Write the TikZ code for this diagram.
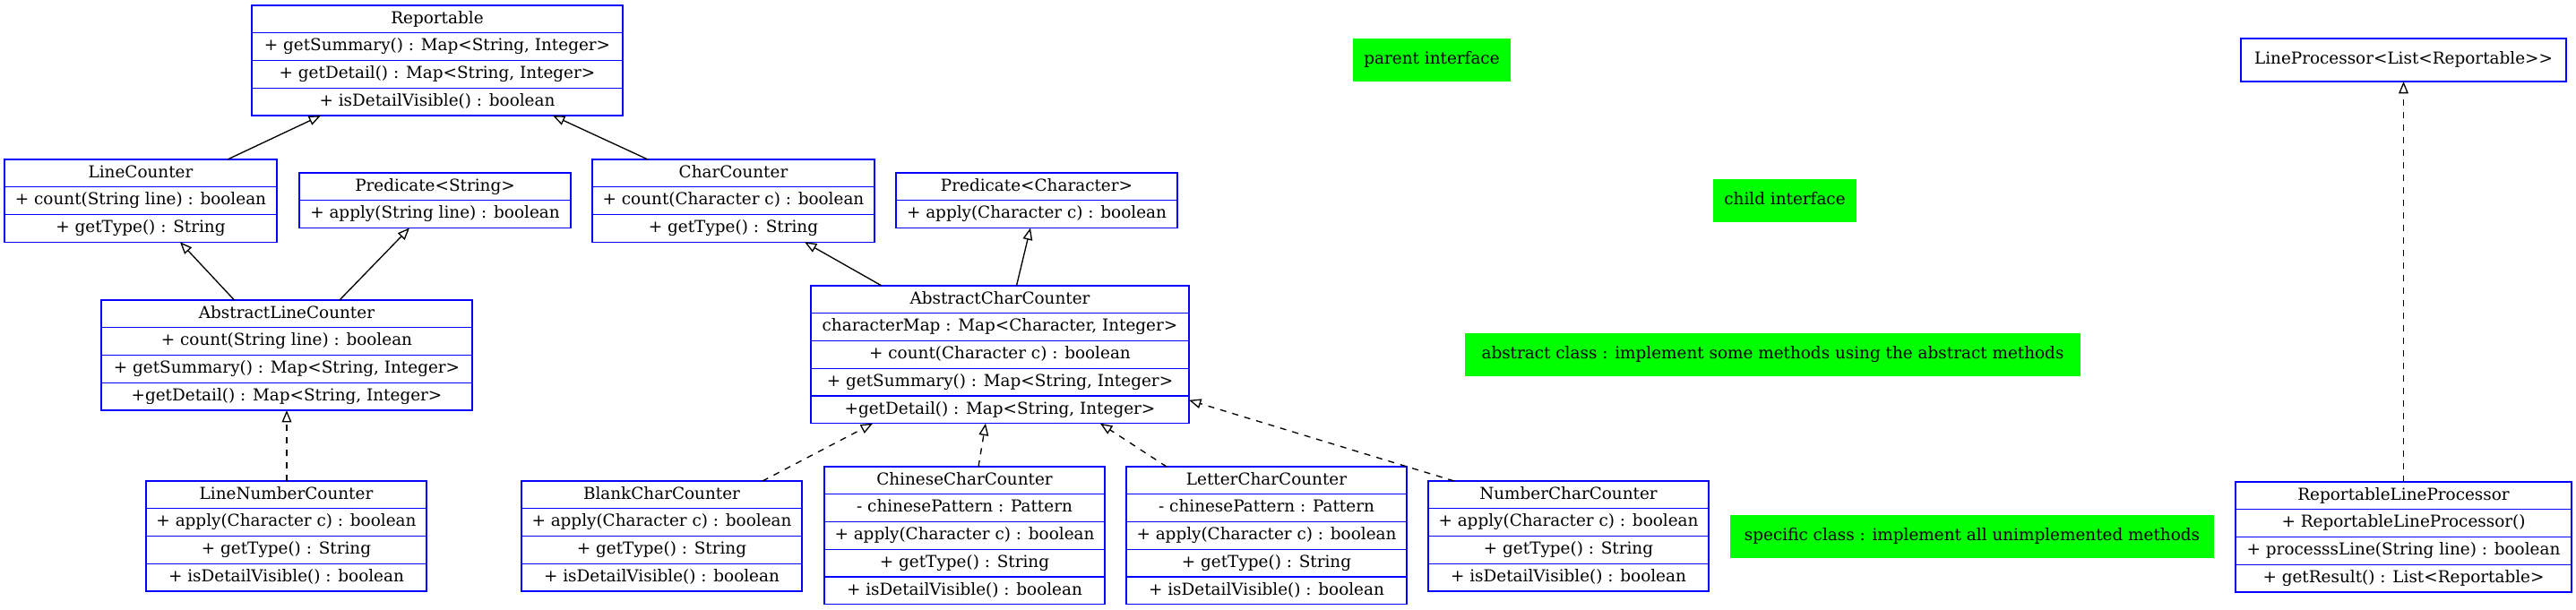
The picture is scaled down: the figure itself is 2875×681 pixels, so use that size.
\documentclass[tikz,border=0pt]{standalone}
\usepackage{fontspec}
\setmainfont{DejaVu Serif}
\usetikzlibrary{arrows.meta,calc}
\definecolor{ublue}{RGB}{0,0,255}
\definecolor{ngreen}{RGB}{0,255,0}
\newcommand{\umlfont}{\fontsize{13.8}{17}\selectfont}
\tikzset{
  frame/.style={draw=ublue, line width=1pt, inner sep=0pt, outer sep=0pt},
  divider/.style={draw=ublue, line width=1pt},
  rowtext/.style={anchor=base, inner sep=0pt, font=\umlfont},
  single/.style={anchor=north west, inner sep=0pt, outer sep=0pt, text height=11.5pt, text depth=4.75pt, font=\umlfont, minimum height=36pt},
  note/.style={single, fill=ngreen},
  inh/.style={draw=black, line width=1pt, -{Triangle[open, length=10pt, width=8pt]}},
  impl/.style={inh, dash pattern=on 5.25pt off 5.25pt},
}
% name, x, y, width, rows, row texts
\newcommand{\umlclass}[6]{%
  \node[frame, anchor=north west, minimum width=#4*0.75pt, minimum height=#5*30.75*0.75pt] (#1) at (#2,#3) {};
  \foreach \rowtxt [count=\i] in {#6} {
    \node[rowtext] (#1-\i) at (#2+#4/2, #3+30.75*\i-10.6) {\rowtxt};
    \ifnum\i>1 \draw[divider] (#2,#3+30.75*\i-30.75) -- ++(#4,0); \fi
  }
}
\begin{document}
\begin{tikzpicture}[x=0.75pt, y=-0.75pt]
\useasboundingbox (0,0) rectangle (2875,681);

\umlclass{Rep}{281}{6}{414}{4}{Reportable, {+ getSummary() : Map<String, Integer>}, {+ getDetail() : Map<String, Integer>}, {+ isDetailVisible() : boolean}}
\umlclass{LC}{5}{178}{304}{3}{LineCounter, {+ count(String line) : boolean}, {+ getType() : String}}
\umlclass{PS}{334}{193}{303}{2}{Predicate<String>, {+ apply(String line) : boolean}}
\umlclass{CC}{661}{178}{315}{3}{CharCounter, {+ count(Character c) : boolean}, {+ getType() : String}}
\umlclass{PC}{1000}{193}{314}{2}{Predicate<Character>, {+ apply(Character c) : boolean}}
\umlclass{ALC}{113}{335}{414}{4}{AbstractLineCounter, {+ count(String line) : boolean}, {+ getSummary() : Map<String, Integer>}, {+getDetail() : Map<String, Integer>}}
\umlclass{ACC}{905}{319}{422}{5}{AbstractCharCounter, {characterMap : Map<Character, Integer>}, {+ count(Character c) : boolean}, {+ getSummary() : Map<String, Integer>}, {+getDetail() : Map<String, Integer>}}
\umlclass{LNC}{163}{537}{313}{4}{LineNumberCounter, {+ apply(Character c) : boolean}, {+ getType() : String}, {+ isDetailVisible() : boolean}}
\umlclass{BCC}{582}{537}{313}{4}{BlankCharCounter, {+ apply(Character c) : boolean}, {+ getType() : String}, {+ isDetailVisible() : boolean}}
\umlclass{CCC}{920}{521}{313}{5}{ChineseCharCounter, {- chinesePattern : Pattern}, {+ apply(Character c) : boolean}, {+ getType() : String}, {+ isDetailVisible() : boolean}}
\umlclass{LCC}{1257}{521}{313}{5}{LetterCharCounter, {- chinesePattern : Pattern}, {+ apply(Character c) : boolean}, {+ getType() : String}, {+ isDetailVisible() : boolean}}
\umlclass{NCC}{1594}{537}{313}{4}{NumberCharCounter, {+ apply(Character c) : boolean}, {+ getType() : String}, {+ isDetailVisible() : boolean}}
\umlclass{RLP}{2495}{538}{375}{4}{ReportableLineProcessor, {+ ReportableLineProcessor()}, {+ processsLine(String line) : boolean}, {+ getResult() : List<Reportable>}}

\node[single, frame, minimum width=363*0.75pt] (LP) at (2501,43) {LineProcessor<List<Reportable>{}>};

\node[note, minimum width=176*0.75pt] (parent) at (1510,43) {parent interface};
\node[note, minimum width=160*0.75pt] (child) at (1912,200) {child interface};
\node[note, minimum width=687*0.75pt] (abstract) at (1635,372) {abstract class : implement some methods using the abstract methods};
\node[note, minimum width=540*0.75pt] (specific) at (1931,575) {specific class : implement all unimplemented methods};

% generalisation (solid)
\draw[inh] ($(LC.north west)+(249,0)$) -- ($(Rep.south west)+(77,0)$);
\draw[inh] ($(CC.north west)+(62,0)$) -- ($(Rep.south west)+(336,0)$);
\draw[inh] ($(ALC.north west)+(148.5,0)$) -- ($(LC.south west)+(196,0)$);
\draw[inh] ($(ALC.north west)+(266,0)$) -- ($(PS.south west)+(123,0)$);
\draw[inh] ($(ACC.north west)+(79,0)$) -- ($(CC.south west)+(237,0)$);
\draw[inh] ($(ACC.north west)+(229.5,0)$) -- ($(PC.south west)+(150,0)$);
% realisation (dashed)
\draw[impl] ($(LNC.north west)+(157,0)$) -- ($(ALC.south west)+(207,0)$);
\draw[impl] ($(BCC.north west)+(269,0)$) -- ($(ACC.south west)+(69,0)$);
\draw[impl] ($(CCC.north west)+(172,0)$) -- ($(ACC.south west)+(195,0)$);
\draw[impl] ($(LCC.north west)+(45,0)$) -- ($(ACC.south west)+(323,0)$);
\draw[impl] ($(NCC.north west)+(29,0)$) -- ($(ACC.south east)+(0,-26)$);
\draw[impl] (RLP.north) -- (LP.south);
\end{tikzpicture}
\end{document}
